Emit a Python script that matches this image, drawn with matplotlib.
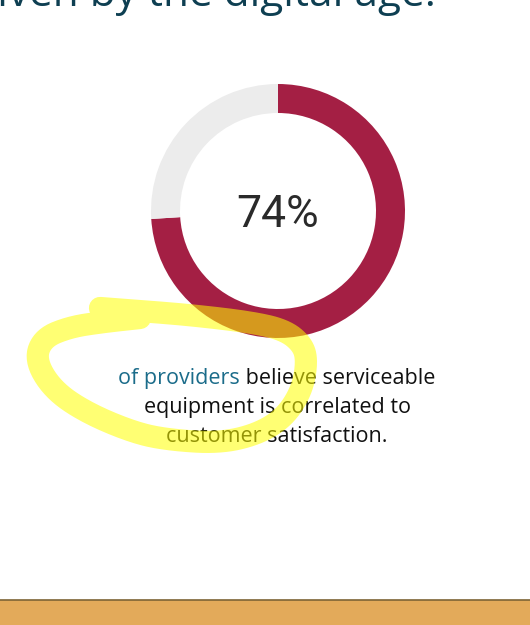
import numpy as np
import matplotlib
matplotlib.use("Agg")
import matplotlib.pyplot as plt
from matplotlib.patches import Rectangle

# data
share = 74
values = [share, 100 - share]
colors = ["#A41F44", "#ECECEC"]
heading = "driven by the digital age."
caption_hi = "of providers"
caption_lines = [" believe serviceable", "equipment is correlated to", "customer satisfaction."]

W, H = 530, 625


def smooth(pts, n=4):
    # chaikin corner cutting, to make the marker loop look hand drawn
    p = np.asarray(pts, float)
    for _ in range(n):
        q = 0.75 * p[:-1] + 0.25 * p[1:]
        r = 0.25 * p[:-1] + 0.75 * p[1:]
        p = np.vstack([p[:1], np.column_stack([q, r]).reshape(-1, 2), p[-1:]])
    return p


fig = plt.figure(figsize=(W / 100, H / 100), dpi=100)

# donut in its own axes (drawn underneath)
cx, cy, r_out, r_in = 278, 211, 127, 98
pax = fig.add_axes([(cx - r_out) / W, 1 - (cy + r_out) / H, 2 * r_out / W, 2 * r_out / H])
pax.pie(values, colors=colors, startangle=90, counterclock=False,
        wedgeprops=dict(width=(r_out - r_in) / r_out, linewidth=0))
pax.set_aspect("equal")
pax.set_xlim(-1, 1)
pax.set_ylim(-1, 1)
pax.axis("off")
pax.set_zorder(1)

ax = fig.add_axes([0, 0, 1, 1])
ax.set_xlim(0, W)
ax.set_ylim(H, 0)
ax.axis("off")
ax.set_zorder(2)

ax.text(cx, 227, f"{share}%", ha="center", va="baseline", fontsize=32,
        family="Roboto", fontweight="normal", color="#2A2A2A")

# cut-off heading at the top
ax.text(436, 6, heading, ha="right", va="baseline", fontsize=30.5,
        family="Open Sans", color="#0E3F52")

# caption, first line has the teal part
fs = 15.5
renderer = fig.canvas.get_renderer()
t1 = ax.text(0, 384, caption_hi, ha="left", va="baseline", fontsize=fs,
             family="Open Sans", color="#1B6C8A")
t2 = ax.text(0, 384, caption_lines[0], ha="left", va="baseline", fontsize=fs,
             family="Open Sans", color="#111111")
w1 = t1.get_window_extent(renderer).width
w2 = t2.get_window_extent(renderer).width
x0 = 277 - (w1 + w2) / 2
t1.set_x(x0)
t2.set_x(x0 + w1)
for y, line in zip([413, 442], caption_lines[1:]):
    ax.text(277, y, line, ha="center", va="baseline", fontsize=fs,
            family="Open Sans", color="#111111")

# yellow marker scribble on top of everything
loop = [(100, 308), (140, 311), (190, 315), (250, 322), (285, 330), (303, 345),
        (307, 362), (302, 390), (285, 417), (258, 434), (220, 443), (170, 440),
        (135, 433), (87, 413), (53, 390), (35, 360), (43, 338), (70, 327),
        (103, 322), (140, 318)]
p = smooth(loop)
ax.plot(p[:, 0], p[:, 1], color="#FFFF00", alpha=0.55, lw=16,
        solid_capstyle="round", solid_joinstyle="round", zorder=10)

# orange band at the bottom
ax.add_patch(Rectangle((0, 600), W, 25, color="#E3AA5A", lw=0))
ax.plot([0, W], [600, 600], color="#7D6435", lw=1.2)

fig.savefig("out.png", dpi=100)
